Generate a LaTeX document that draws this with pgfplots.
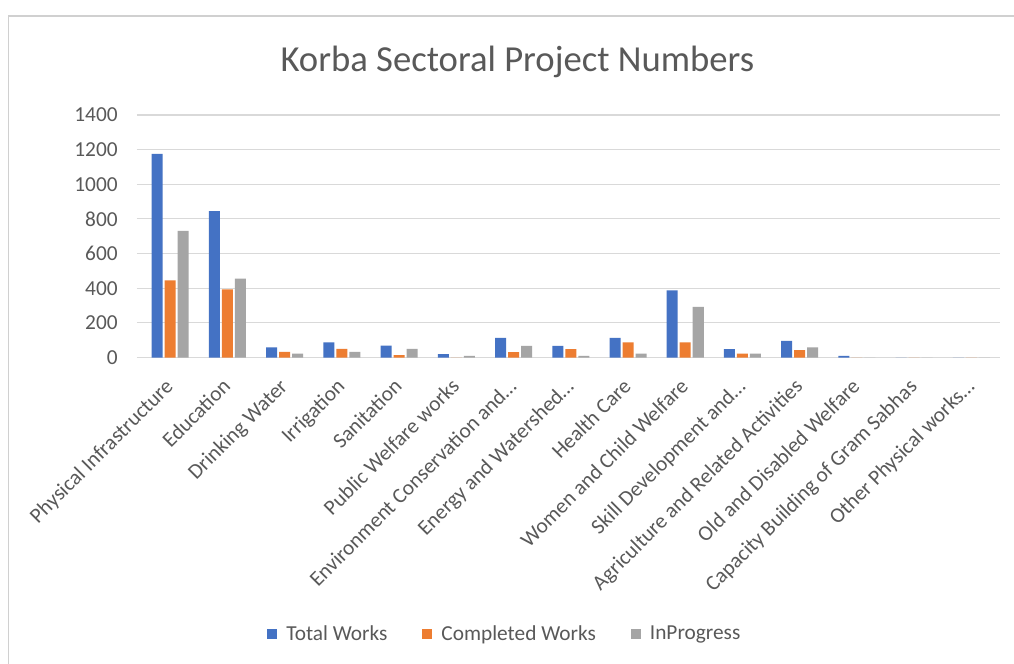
\documentclass[border=0pt]{standalone}
\usepackage{fontspec}
\setmainfont{Carlito}
\usepackage{pgfplots}
\pgfplotsset{compat=1.18}
\definecolor{cBlue}{HTML}{4472C4}
\definecolor{cOrange}{HTML}{ED7D31}
\definecolor{cGray}{HTML}{A5A5A5}
\definecolor{txtGray}{HTML}{595959}
\definecolor{gridGray}{HTML}{D9D9D9}
\definecolor{frameGray}{HTML}{D0D0D0}
\begin{document}
\begin{tikzpicture}
\useasboundingbox (0,0) rectangle (760.5pt,498pt);
\fill[white] (0,0) rectangle (760.5pt,498pt);
\draw[color=frameGray, line width=1.2pt] (6.4pt,0) -- (6.4pt,486pt) -- (760.5pt,486pt);
\node[text=txtGray, font=\fontsize{27.5}{33}\selectfont] at (388pt,451.5pt) {Korba Sectoral Project Numbers};
\begin{axis}[
  at={(102.75pt,229.875pt)}, anchor=south west,
  scale only axis, width=647.25pt, height=181.875pt,
  xmin=-0.58, xmax=14.5, ymin=0, ymax=1400,
  ybar=1.5pt, bar width=8.25pt,
  axis line style={draw=none},
  major tick length=0pt,
  ymajorgrids, grid style={gridGray, line width=0.8pt},
  ytick={0,200,...,1400},
  /pgf/number format/assume math mode=true,
  /pgf/number format/1000 sep={},
  yticklabel style={font=\fontsize{16}{19}\selectfont, text=txtGray, xshift=-11pt},
  xtick={0,...,14},
  xticklabels={Physical Infrastructure, Education, Drinking Water, Irrigation, Sanitation, Public Welfare works, Environment Conservation and…, Energy and Watershed…, Health Care, Women and Child Welfare, Skill Development and…, Agriculture and Related Activities, Old and Disabled Welfare, Capacity Building of Gram Sabhas, Other Physical works…},
  xticklabel style={rotate=45, anchor=north east, inner sep=0pt, font=\fontsize{16}{19}\selectfont, text=txtGray, yshift=-7pt, xshift=-13.8pt},
  legend columns=3,
  legend style={at={(0.4264,-1.140)}, anchor=center, draw=none, fill=none,
    font=\fontsize{16}{19}\selectfont, text=txtGray,
    /tikz/every odd column/.append style={column sep=5pt},
    /tikz/every even column/.append style={column sep=24pt}},
  legend image code/.code={\fill[#1,draw=none] (0pt,-3.8pt) rectangle (7.5pt,3.8pt);},
]
\addplot[fill=cBlue, draw=none] coordinates {(0,1175) (1,845) (2,58) (3,88) (4,69) (5,20) (6,114) (7,67) (8,114) (9,388) (10,49) (11,96) (12,10) (13,0) (14,0)};
\addplot[fill=cOrange, draw=none] coordinates {(0,445) (1,393) (2,33) (3,50) (4,13) (5,0) (6,31) (7,49) (8,88) (9,88) (10,22) (11,43) (12,0) (13,0) (14,0)};
\addplot[fill=cGray, draw=none] coordinates {(0,731) (1,455) (2,23) (3,33) (4,50) (5,10) (6,67) (7,10) (8,22) (9,292) (10,22) (11,59) (12,0) (13,0) (14,0)};
\legend{Total Works, Completed Works, InProgress}
\end{axis}
\end{tikzpicture}
\end{document}
